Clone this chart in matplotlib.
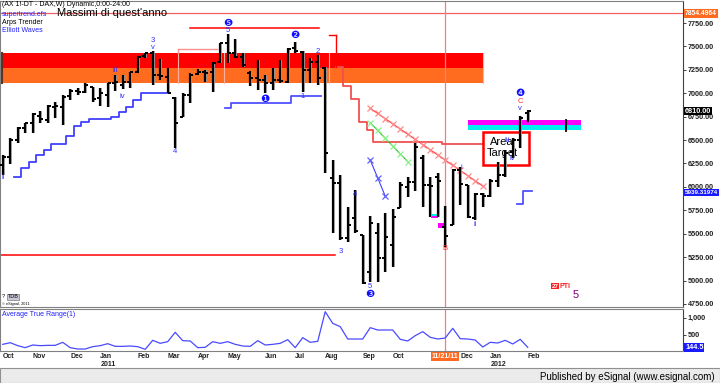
import matplotlib
matplotlib.use('Agg')
import matplotlib.pyplot as plt
from matplotlib.patches import Rectangle
from matplotlib.collections import LineCollection
from matplotlib.transforms import blended_transform_factory
import numpy as np

plt.rcParams['font.family'] = ['Liberation Sans', 'DejaVu Sans']

# ---------------- data ----------------
opens = [6233, 6316, 6500, 6625, 6679, 6757, 6714, 6856, 6856, 6970, 7027, 7016, 7070, 6946, 6981, 7106,
         7088, 7123, 7230, 7398, 7426, 7195, 7177, 6946, 6749, 6981, 7205, 7230, 7230, 7337, 7533, 7426,
         7390, 7219, 7159, 7141, 7106, 7141, 7123, 7480, 7444, 7248, 7337, 7266, 6091, 6038, 5451, 5664,
         5486, 5094, 5504, 5237, 5379, 5771, 6002, 6055, 6305, 6020, 6102, 5575, 5593, 6180, 6020, 5664,
         5924, 5902, 6066, 6127, 6376, 6500, 6786]
highs = [6340, 6519, 6636, 6685, 6792, 6813, 6874, 6910, 6981, 7042, 7053, 7106, 7070, 7053, 7113, 7195,
         7195, 7230, 7398, 7433, 7454, 7362, 7266, 6956, 6999, 7213, 7255, 7248, 7337, 7540, 7633, 7576,
         7426, 7237, 7355, 7195, 7266, 7355, 7480, 7551, 7450, 7373, 7408, 7283, 6287, 6127, 5788, 5966,
         5486, 5689, 5610, 5724, 5760, 6055, 6102, 6465, 6340, 6109, 6145, 5796, 6188, 6209, 6020, 5931,
         5931, 6081, 6269, 6394, 6519, 6757, 6821]
lows = [6127, 6244, 6465, 6572, 6572, 6679, 6685, 6731, 6661, 6928, 6981, 6999, 6910, 6864, 6850, 7027,
        7042, 7053, 7219, 7373, 7088, 7141, 6999, 6412, 6743, 6892, 7195, 7123, 7016, 7320, 7320, 7373,
        7283, 7077, 7034, 6999, 7034, 7113, 7113, 7433, 7016, 7113, 7088, 6148, 5504, 5432, 5414, 5504,
        4965, 4987, 4987, 5094, 5147, 5771, 5888, 5959, 5782, 5681, 5681, 5361, 5593, 5806, 5664, 5646,
        5788, 5895, 6002, 6109, 6305, 6412, 6696]
closes = [6322, 6500, 6625, 6679, 6778, 6721, 6864, 6864, 6963, 7027, 7016, 7088, 6935, 6999, 7106, 7120,
          7123, 7230, 7390, 7426, 7195, 7184, 7006, 6679, 6981, 7195, 7230, 7219, 7326, 7533, 7426, 7390,
          7301, 7159, 7141, 7106, 7141, 7134, 7469, 7451, 7248, 7337, 7159, 6362, 6038, 5451, 5593, 5532,
          4973, 5610, 5237, 5468, 5681, 6020, 6055, 6429, 6020, 6009, 6060, 5478, 6180, 6030, 5681, 5924,
          5902, 6066, 6127, 6358, 6500, 6732, 6810]
atr = [230, 278, 192, 134, 211, 192, 201, 201, 288, 134, 95, 95, 163, 192, 249, 172,
       172, 182, 163, 86, 346, 259, 307, 577, 336, 327, 134, 144, 307, 259, 307, 230,
       182, 172, 336, 211, 230, 259, 365, 134, 423, 288, 317, 1174, 837, 741, 384, 384,
       384, 712, 644, 644, 644, 375, 327, 481, 596, 433, 384, 413, 693, 394, 384, 355,
       153, 288, 269, 346, 240, 375, 144.5]

month_labels = ['Oct', 'Nov', 'Dec', 'Jan', 'Feb', 'Mar', 'Apr', 'May', 'Jun', 'Jul', 'Aug',
                'Sep', 'Oct', 'Dec', 'Jan', 'Feb']
month_index = [0, 4, 9, 13, 18, 22, 26, 30, 35, 39, 43, 48, 52, 61, 65, 70]
year_labels = ['2011', '2012']
year_index = [13, 65]
cursor_label = '11/21/11'
cursor_index = 59

price_ticks = [4750, 5000, 5250, 5500, 5750, 6000, 6250, 6500, 6750, 7000, 7250, 7500, 7750]
yearly_high = 7854.4964
last_price = 6810.00
trail_value = 5939.31974
atr_ticks = [500, 1000]
atr_tick_labels = ['500', '1,000']
atr_last = 144.5

# resistance band (red / orange)
band_start, band_end = -0.13, 64.0
band_red = (7268, 7428)
band_orange = (7114, 7268)
band_separators = [23.4, 29.5, 43.5]
# top red segment and bottom red segment
top_line = (25.0, 42.2, 7693)
bottom_line = (-0.4, 44.3, 5272)
pink_box = (23.4, 28.6, 7469)

# stepped trailing lines
blue1_edges = [1.5, 2.5, 3.5, 4.5, 5.5, 6.5, 8.5, 9.5, 10.5, 11.5, 14.5, 15.5, 16.5, 17.4, 18.5, 22.1]
blue1_levels = [6108, 6198, 6269, 6340, 6394, 6458, 6543, 6650, 6696, 6722, 6743, 6803, 6850, 6928, 7000]
blue2_edges = [29.6, 30.4, 38.5, 42.5]
blue2_levels = [6839, 6899, 6970]
blue3_edges = [68.6, 69.4, 70.6]
blue3_levels = [5814, 5956]
red_edges = [43.5, 44.4, 45.4, 46.4, 47.5, 48.6, 49.4, 58.6, 64.0]
red_levels = [7622, 7280, 7077, 6938, 6693, 6607, 6479, 6458]

# crossed trend lines
redx_idx = list(range(49, 65))
redx_val = [6839, 6784, 6728, 6673, 6618, 6562, 6507, 6452, 6396, 6341, 6286, 6230, 6175, 6120, 6064, 6009]
greenx_idx = [49, 50, 51, 52, 53, 54]
greenx_val = [6685, 6602, 6519, 6435, 6352, 6269]
bluex_idx = [49, 50, 51]
bluex_val = [6287, 6095, 5902]

# target zones
mag_zone = (62.1, 77.1, 6661, 6714)
cyan_zone = (62.1, 77.1, 6607, 6661)
area_box = (64.0, 70.2, 6233, 6589)

# wave labels: (index, price, text, color)
wave_labels = [
    (0.04, 6098, 'ii', '#3030ff'), (15.0, 7241, 'iii', '#3030ff'), (15.9, 6963, 'iv', '#3030ff'),
    (20.0, 7561, '3', '#3030ff'), (20.0, 7490, 'v', '#3030ff'), (23.0, 6375, '4', '#3030ff'),
    (30.0, 7668, '5', '#3030ff'), (42.0, 7443, '2', '#3030ff'), (40.0, 6970, '1', '#3030ff'),
    (45.1, 5315, '3', '#3030ff'), (47.0, 5920, '4', '#3030ff'), (49.0, 4941, '5', '#3030ff'),
    (59.0, 5344, 'B', '#ff3030'), (61.1, 6209, 'i', '#3030ff'), (63.0, 5593, 'ii', '#3030ff'),
    (67.2, 6500, 'iii', '#3030ff'), (67.9, 6305, 'iv', '#3030ff'), (69.0, 6909, 'C', '#ff3030'),
    (69.0, 6839, 'v', '#3030ff'),
]
circled_labels = [(30.0, 7753, '\u277a'), (39.0, 7622, '\u2777'), (35.0, 6935, '\u2776'),
                  (49.0, 4856, '\u2778'), (69.0, 6999, '\u2779')]

# ---------------- figure ----------------
W, H = 720, 383
fig = plt.figure(figsize=(W / 100, H / 100), dpi=100)


def fx(px):
    return px / W


def fy(py):
    return 1 - py / H


main_top, main_bot = 1, 307
atr_top, atr_bot = 309, 351
right_px = 683
ax = fig.add_axes([0, fy(main_bot), fx(right_px), (main_bot - main_top) / H])
ax2 = fig.add_axes([0, fy(atr_bot), fx(right_px), (atr_bot - atr_top) / H])

xmin, xmax = -0.36, 90.7
ax.set_xlim(xmin, xmax)
ax.set_ylim(4717, 7985)
ax2.set_xlim(xmin, xmax)
ax2.set_ylim(37.6, 1251)

for a in (ax, ax2):
    for s in a.spines.values():
        s.set_color('#808080')
        s.set_linewidth(0.8)
    a.spines['right'].set_color('#404040')
    a.set_xticks([])
    a.yaxis.tick_right()
    a.tick_params(axis='y', length=2, width=0.6, pad=1.5, labelsize=5.2, colors='#202020')

ax.set_yticks(price_ticks)
ax.set_yticklabels(['%.2f' % v for v in price_ticks], fontweight='bold')
ax2.set_yticks(atr_ticks)
ax2.set_yticklabels(atr_tick_labels, fontweight='bold')

# yearly high line
ax.axhline(yearly_high, color='#f06060', lw=0.9, zorder=1)

# band
ax.add_patch(Rectangle((band_start, band_red[0]), band_end - band_start, band_red[1] - band_red[0],
                       fc='#ff0000', ec='none', zorder=1))
ax.add_patch(Rectangle((band_start, band_orange[0]), band_end - band_start, band_orange[1] - band_orange[0],
                       fc='#ff6c20', ec='none', zorder=1))
ax.plot([band_start, band_start], [band_orange[0], band_red[1]], color='#603020', lw=1.5, zorder=2)
for sx in band_separators:
    ax.plot([sx, sx], [band_orange[0], band_red[1]], color='#ffb0a0', lw=0.8, zorder=2)
ax.plot([band_end, band_end], [band_orange[0], band_red[1]], color='#ffb0a0', lw=0.8, zorder=2)
ax.plot([pink_box[0], pink_box[1]], [pink_box[2], pink_box[2]], color='#ff9090', lw=1, zorder=2)
ax.plot([pink_box[0], pink_box[0]], [band_red[1], pink_box[2]], color='#ff9090', lw=1, zorder=2)

ax.plot([top_line[0], top_line[1]], [top_line[2]] * 2, color='#ff0000', lw=1.1, zorder=2)
ax.plot([bottom_line[0], bottom_line[1]], [bottom_line[2]] * 2, color='#ff0000', lw=1.1, zorder=2)


def step_line(edges, levels, **kw):
    xs, ys = [], []
    for i, lv in enumerate(levels):
        xs += [edges[i], edges[i + 1]]
        ys += [lv, lv]
    ax.plot(xs, ys, **kw)


step_line(blue1_edges, blue1_levels, color='#4040ff', lw=1.3, zorder=2)
step_line(blue2_edges, blue2_levels, color='#5050ff', lw=1.3, zorder=2)
step_line(blue3_edges, blue3_levels, color='#5050ff', lw=1.3, zorder=2)
step_line(red_edges[:2], red_levels[:1], color='#ff0000', lw=1.0, zorder=2)
step_line(red_edges[1:], red_levels[1:], color='#f05050', lw=1.3, zorder=2)
ax.plot([red_edges[1], red_edges[1]], [red_levels[0], red_levels[1]], color='#ff0000', lw=1.0, zorder=2)

# target zones
ax.add_patch(Rectangle((mag_zone[0], mag_zone[2]), mag_zone[1] - mag_zone[0], mag_zone[3] - mag_zone[2],
                       fc='#ff00ff', ec='none', zorder=2))
ax.add_patch(Rectangle((cyan_zone[0], cyan_zone[2]), cyan_zone[1] - cyan_zone[0], cyan_zone[3] - cyan_zone[2],
                       fc='#00f0f0', ec='none', zorder=2))
ax.plot([75.1, 75.1], [6597, 6714], color='black', lw=1.3, zorder=3)
ax.add_patch(Rectangle((area_box[0], area_box[2]), area_box[1] - area_box[0], area_box[3] - area_box[2],
                       fc='none', ec='#ff0000', lw=1.8, zorder=2))
ax.text(66.6, 6482, 'Area', fontsize=8, ha='center', va='center', color='black', zorder=2)
ax.text(66.6, 6358, 'Target', fontsize=8, ha='center', va='center', color='black', zorder=2)

# small markers
ax.add_patch(Rectangle((57.1, 5690), 0.9, 22, fc='#00f0f0', ec='none', zorder=2))
ax.add_patch(Rectangle((57.1, 5667), 0.9, 23, fc='#ff00ff', ec='none', zorder=2))
ax.add_patch(Rectangle((58.0, 5560), 0.9, 54, fc='#ff00ff', ec='none', zorder=2))

# crossed lines
ax.plot(redx_idx, redx_val, color='#ff3030', lw=0.8, zorder=3)
ax.plot(redx_idx, redx_val, ls='none', marker='x', ms=5, mew=0.9, color='#ff8c8c', zorder=3)
ax.plot(greenx_idx, greenx_val, color='#20c020', lw=0.8, zorder=3)
ax.plot(greenx_idx, greenx_val, ls='none', marker='x', ms=5, mew=0.9, color='#90f090', zorder=3)
ax.plot(bluex_idx, bluex_val, color='#4040ff', lw=0.8, zorder=3)
ax.plot(bluex_idx, bluex_val, ls='none', marker='x', ms=5, mew=0.9, color='#6060ff', zorder=3)

# cursor line
for a in (ax, ax2):
    a.axvline(cursor_index, color='#f08080', lw=0.9, zorder=1.5)

# OHLC bars
idx = np.arange(len(opens))
sh = 0.14
shadow = [[(i + sh, l), (i + sh, h)] for i, h, l in zip(idx, highs, lows)]
ax.add_collection(LineCollection(shadow, colors='#a8a8a8', linewidths=1.3, zorder=4))
verts = [[(i, l), (i, h)] for i, h, l in zip(idx, highs, lows)]
ax.add_collection(LineCollection(verts, colors='black', linewidths=1.6, zorder=5))
otk = [[(i - 0.42, o), (i, o)] for i, o in zip(idx, opens)]
ctk = [[(i, c), (i + 0.42, c)] for i, c in zip(idx, closes)]
ax.add_collection(LineCollection(otk + ctk, colors='black', linewidths=1.4, zorder=5))

# labels
for (xi, yv, t, c) in wave_labels:
    ax.text(xi, yv, t, fontsize=5.5, color=c, ha='center', va='center', zorder=6)
for (xi, yv, t) in circled_labels:
    ax.text(xi, yv, t, fontsize=7.5, color='#1010ff', ha='center', va='center', zorder=6,
            family='DejaVu Sans')


# right axis highlight boxes
def right_box(a, val, txt, fc, fs=5.2):
    a.text(1.003, val, txt, transform=blended_transform_factory(a.transAxes, a.transData),
           fontsize=fs, fontweight='bold', color='white', ha='left', va='center', zorder=10,
           bbox=dict(boxstyle='square,pad=0.12', fc=fc, ec='none'), clip_on=False)


right_box(ax, yearly_high, '%.4f' % yearly_high, '#ff6a20', 4.9)
right_box(ax, last_price, '%.2f' % last_price, '#000000')
right_box(ax, trail_value, '%.5f' % trail_value, '#1a1aff', 4.5)
right_box(ax2, atr_last, '%.1f' % atr_last, '#1a1aff')

# header texts
fig.text(fx(2), fy(5), '(AX 1!-DT - DAX,W) Dynamic,0:00-24:00', fontsize=5, color='black', va='center')
fig.text(fx(2), fy(14), 'supertrend.efs', fontsize=5, color='#2020ff', va='center')
fig.text(fx(2), fy(22), 'Arps Trender', fontsize=5, color='black', va='center')
fig.text(fx(2), fy(30), 'Elliott Waves', fontsize=5, color='#2020ff', va='center')
fig.text(fx(57), fy(13.5), "Massimi di quest'anno", fontsize=8, color='black', va='center')

# bottom-left small texts
fig.text(fx(2), fy(297), '?', fontsize=4, color='black', va='center')
fig.text(fx(8), fy(297), 'TDB', fontsize=4, color='black', va='center',
         bbox=dict(boxstyle='square,pad=0.1', fc='#c8c8d8', ec='#606060', lw=0.4))
fig.text(fx(2), fy(304), '\u00a9 eSignal, 2011', fontsize=2.8, color='black', va='center')

# PTI
fig.text(fx(551.5), fy(286), '27', fontsize=4.5, color='white', va='center', fontweight='bold',
         bbox=dict(boxstyle='square,pad=0.1', fc='#ff2020', ec='none'))
fig.text(fx(560), fy(286), 'PTI', fontsize=5, color='#ff2020', va='center', fontweight='bold')
fig.text(fx(576), fy(295), '5', fontsize=8, color='#800080', va='center', ha='center')

# ATR panel
ax2.plot(idx, atr, color='#4a4aff', lw=0.9, zorder=3)
ax2.text(0.003, 0.88, 'Average True Range(1)', transform=ax2.transAxes, fontsize=5, color='#2020ff',
         va='center', ha='left')

# date labels
tr = blended_transform_factory(ax2.transData, fig.transFigure)
for lab, i in zip(month_labels, month_index):
    ax2.text(i, fy(356.5), lab, transform=tr, fontsize=5, fontweight='bold', color='#202020',
             ha='left', va='center', clip_on=False)
for lab, i in zip(year_labels, year_index):
    ax2.text(i, fy(364), lab, transform=tr, fontsize=5, fontweight='bold', color='#202020',
             ha='left', va='center', clip_on=False)
ax2.text(cursor_index, fy(356.5), cursor_label, transform=tr, fontsize=5, fontweight='bold',
         color='white', ha='center', va='center', clip_on=False,
         bbox=dict(boxstyle='square,pad=0.12', fc='#ff6a20', ec='none'))

# published bar
fig.patches.append(Rectangle((0, 0), 1, fy(368), transform=fig.transFigure, fc='#ebebeb',
                             ec='#909090', lw=0.8))
fig.text(fx(715), fy(377), 'Published by eSignal (www.esignal.com)', fontsize=7, color='black',
         ha='right', va='center')

fig.savefig('out.png', dpi=100)
